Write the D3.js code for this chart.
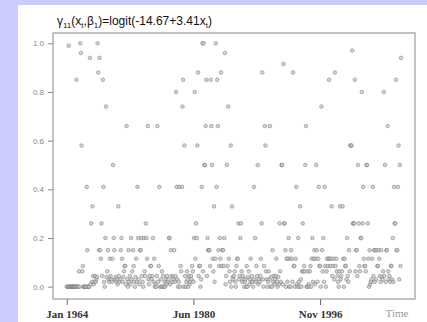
<!DOCTYPE html>
<html>
<head>
<meta charset="utf-8">
<script src="https://cdn.jsdelivr.net/npm/d3@7"></script>
<style>
	body { margin: 0; background: #ccccff; }
	svg { display: block; }
	.ylab { font-family: "Liberation Sans", Arial, sans-serif; font-size: 8px; fill: #888; }
	.xlab { font-family: "Liberation Serif", "Times New Roman", serif; font-size: 11px; font-weight: bold; fill: #333; }
	.timelab { font-family: "Liberation Serif", "Times New Roman", serif; font-size: 11px; fill: #999; }
	.title { font-family: "Liberation Sans", Arial, sans-serif; font-size: 12px; fill: #111; }
</style>
</head>
<body>
<div id="chart"></div>
<script>
// monthly series, one row per year, starting Jan 1964
const startYear = 1964;
const values = [
	[0, 0, 0, 0.99, 0, 0, 0, 0, 0, 0, 0, 0],
	[0, 0, 0, 0.85, 0, 0, 0, 0.063, 0, 1, 0.96, 0.58],
	[0.063, 0.085, 0, 0, 0, 0, 0, 0.41, 0.15, 0, 0, 0],
	[0.94, 0.01, 0.26, 0.02, 0.33, 0.044, 0.01, 0.02, 0.044, 0.02, 0.03, 0.04],
	[1, 0.88, 0.15, 0.94, 0.15, 0.115, 0.26, 0.044, 0.85, 0.41, 0.02, 0],
	[0.2, 0.74, 0.04, 0.063, 0.15, 0.03, 0.02, 0.115, 0.044, 0.03, 0.02, 0.115],
	[0.5, 0.2, 0.15, 0.03, 0.04, 0.02, 0.03, 0.01, 0.33, 0.044, 0.02, 0.03],
	[0.15, 0.2, 0.115, 0.02, 0.04, 0.063, 0.085, 0.085, 0.01, 0.66, 0.03, 0],
	[0.15, 0.02, 0.044, 0.01, 0.2, 0.03, 0.063, 0.15, 0.085, 0.02, 0, 0.04],
	[0.115, 0.02, 0.41, 0.2, 0.03, 0.01, 0.15, 0.15, 0.2, 0.044, 0.02, 0],
	[0.2, 0.063, 0.044, 0.26, 0.2, 0.115, 0.66, 0.03, 0.01, 0.044, 0.085, 0.085],
	[0.03, 0.044, 0.2, 0.02, 0.115, 0, 0.01, 0, 0.044, 0.66, 0.02, 0.085],
	[0.41, 0, 0.03, 0, 0.063, 0, 0.044, 0, 0.02, 0, 0.03, 0.01],
	[0.044, 0.02, 0.03, 0.2, 0.2, 0.01, 0.15, 0.044, 0.02, 0.04, 0.03, 0.15],
	[0.02, 0.044, 0.8, 0.41, 0.03, 0, 0.02, 0.41, 0, 0.085, 0.063, 0.41],
	[0.74, 0.85, 0, 0.58, 0.044, 0, 0.02, 0.063, 0.03, 0, 0.044, 0.01],
	[0.02, 0.044, 0.03, 0.085, 0.063, 0.02, 0.2, 0.8, 0.115, 0.26, 0.2, 0.58],
	[0.88, 0.044, 0.085, 0.085, 0, 0.03, 0.41, 1, 0.063, 1, 0.5, 0.5],
	[0.66, 0.85, 0.044, 0.2, 0.15, 0.15, 0.15, 0.085, 0.85, 0.66, 0.5, 0.115],
	[0.063, 0.33, 0.02, 0.115, 1, 0.41, 0.85, 0.66, 0.15, 0.085, 0.2, 0.115],
	[0.88, 0.085, 0.15, 0.15, 0.085, 0.2, 0.96, 0.01, 0.044, 0.5, 0.085, 0.74],
	[0.115, 0.063, 0.02, 0.58, 0, 0.33, 0.04, 0.03, 0.044, 0.063, 0.02, 0],
	[0.085, 0.115, 0.115, 0.26, 0.03, 0.044, 0.2, 0.26, 0.063, 0.02, 0.044, 0.03],
	[0, 0.02, 0.03, 0, 0.085, 0, 0.04, 0.063, 0.01, 0.03, 0.115, 0.02],
	[0.044, 0.02, 0, 0.41, 0.03, 0.2, 0.02, 0.085, 0.044, 0.5, 0.01, 0.03],
	[0.02, 0.044, 0.115, 0.26, 0.88, 0.03, 0, 0.085, 0.66, 0.58, 0.063, 0.03],
	[0, 0.02, 0.063, 0.03, 0.66, 0, 0.04, 0, 0.15, 0.02, 0.044, 0.01],
	[0.03, 0.044, 0.115, 0.02, 0, 0.04, 0.01, 0.26, 0.063, 0.02, 0.5, 0.5],
	[0.01, 0.915, 0.26, 0.26, 0.15, 0, 0.115, 0.02, 0.115, 0.2, 0, 0.115],
	[0, 0.15, 0.115, 0.02, 0.88, 0.085, 0.085, 0, 0.115, 0.41, 0.01, 0],
	[0.2, 0.02, 0, 0.33, 0.03, 0, 0.063, 0.26, 0.063, 0.085, 0.063, 0.5],
	[0.66, 0, 0, 0.063, 0.01, 0, 0.063, 0.085, 0, 0.115, 0.2, 0.02],
	[0.115, 0.15, 0.01, 0.115, 0.5, 0.15, 0.02, 0.115, 0.41, 0.085, 0.085, 0],
	[0.74, 0.15, 0.063, 0.2, 0.02, 0.41, 0.085, 0, 0.063, 0.115, 0.085, 0.115],
	[0.85, 0.115, 0.085, 0.115, 0.33, 0.044, 0.085, 0.115, 0.03, 0.88, 0.085, 0.115],
	[0.063, 0.044, 0.02, 0, 0.063, 0.33, 0.03, 0.044, 0.063, 0.33, 0.115, 0],
	[0.115, 0.085, 0.085, 0.03, 0.2, 0.044, 0.02, 0.15, 0.063, 0.58, 0.58, 0.58],
	[0.97, 0.26, 0.26, 0.26, 0.85, 0.063, 0.15, 0.15, 0.044, 0.5, 0.26, 0.085],
	[0.063, 0.2, 0.2, 0.8, 0.26, 0.41, 0.115, 0.085, 0.085, 0.063, 0.5, 0.5],
	[0.26, 0.115, 0, 0.15, 0.01, 0.02, 0.03, 0.115, 0.41, 0.044, 0.15, 0.02],
	[0.15, 0.03, 0.15, 0.085, 0.085, 0.15, 0.115, 0.044, 0.02, 0.15, 0.04, 0.03],
	[0.063, 0.8, 0.044, 0.5, 0.02, 0.15, 0.15, 0.66, 0.063, 0.03, 0.044, 0.02],
	[0.085, 0.085, 0.03, 0.2, 0.02, 0.41, 0.26, 0.26, 0.85, 0.15, 0.15, 0.41],
	[0.58, 0.03, 0.5, 0.085, 0.94]
];
const yTicks = [0, 0.2, 0.4, 0.6, 0.8, 1.0];
const xTickDates = [new Date(Date.UTC(1964, 0, 1)), new Date(Date.UTC(1980, 5, 1)), new Date(Date.UTC(1996, 10, 1))];
const xTickLabels = ["Jan 1964", "Jun 1980", "Nov 1996"];
const xDomain = [new Date(Date.UTC(1962, 2, 20)), new Date(Date.UTC(2009, 1, 18))];

const width = 427, height = 322;
const box = { left: 53, top: 33, right: 415, bottom: 299 };

const points = values.flatMap((row, yi) => row.map((v, mi) => ({
	date: new Date(Date.UTC(startYear + yi, mi, 1)),
	value: v
})));

const svg = d3.select("#chart")
	.append("svg")
	.attr("width", width)
	.attr("height", height);

// white panel
svg.append("rect")
	.attr("x", 18)
	.attr("y", 5)
	.attr("width", width - 18)
	.attr("height", height - 5)
	.attr("fill", "white");

const x = d3.scaleUtc()
	.domain(xDomain)
	.range([box.left, box.right]);
const y = d3.scaleLinear()
	.domain([0, 1])
	.range([286.7, 43.3]);

// title
const title = svg.append("text")
	.classed("title", true)
	.attr("x", 57)
	.attr("y", 25);
title.append("tspan").text("\u03b3");
title.append("tspan").attr("font-size", "8px").attr("dy", 3).text("11");
title.append("tspan").attr("dy", -3).text("(x");
title.append("tspan").attr("font-size", "8px").attr("dy", 3).text("t");
title.append("tspan").attr("dy", -3).text(",\u03b2");
title.append("tspan").attr("font-size", "8px").attr("dy", 3).text("1");
title.append("tspan").attr("dy", -3).text(")=logit(-14.67+3.41x");
title.append("tspan").attr("font-size", "8px").attr("dy", 3).text("t");
title.append("tspan").attr("dy", -3).text(")");

// y axis
const yAxis = d3.axisLeft(y)
	.tickValues(yTicks)
	.tickFormat(d3.format(".1f"))
	.tickSize(5)
	.tickPadding(4);
const yAxisGroup = svg.append("g")
	.attr("transform", "translate(" + box.left + ",0)")
	.call(yAxis);
yAxisGroup.select(".domain").remove();
yAxisGroup.selectAll("line").attr("stroke", "#888");
yAxisGroup.selectAll("text").attr("class", "ylab").attr("font-family", null).attr("font-size", null).attr("fill", null);

// x axis
const xAxis = d3.axisBottom(x)
	.tickValues(xTickDates)
	.tickFormat((d, i) => xTickLabels[i])
	.tickSize(6)
	.tickPadding(5);
const xAxisGroup = svg.append("g")
	.attr("transform", "translate(0," + box.bottom + ")")
	.call(xAxis);
xAxisGroup.select(".domain").remove();
xAxisGroup.selectAll("line").attr("stroke", "#666");
xAxisGroup.selectAll("text").attr("class", "xlab").attr("font-family", null).attr("font-size", null).attr("fill", null);

svg.append("text")
	.classed("timelab", true)
	.attr("x", 397)
	.attr("y", 317)
	.attr("text-anchor", "middle")
	.text("Time");

// plot box
svg.append("rect")
	.attr("x", box.left)
	.attr("y", box.top)
	.attr("width", box.right - box.left)
	.attr("height", box.bottom - box.top)
	.attr("fill", "none")
	.attr("stroke", "#888")
	.attr("stroke-width", 1);

// points
svg.append("g")
	.selectAll("circle")
	.data(points)
	.enter()
	.append("circle")
	.attr("cx", d => x(d.date))
	.attr("cy", d => y(d.value))
	.attr("r", 1.8)
	.attr("fill", "#ccc")
	.attr("stroke", "#777")
	.attr("stroke-width", 0.7)
	.attr("opacity", 0.8);
</script>
</body>
</html>
